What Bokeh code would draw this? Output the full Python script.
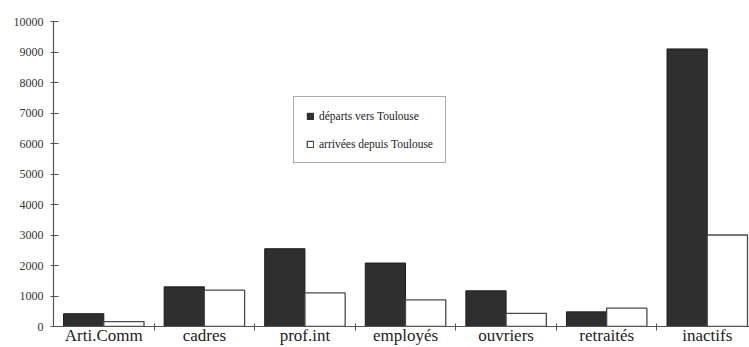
from bokeh.plotting import figure
from bokeh.models import Range1d, FixedTicker, Legend, LegendItem, ColumnDataSource
from bokeh.embed import file_html
from bokeh.resources import INLINE
import numpy as np

categories = ["Arti.Comm", "cadres", "prof.int", "employés", "ouvriers", "retraités", "inactifs"]
departs = [420, 1300, 2550, 2080, 1170, 480, 9100]
arrivees = [160, 1190, 1100, 870, 430, 600, 3000]
y_ticks = [0, 1000, 2000, 3000, 4000, 5000, 6000, 7000, 8000, 9000, 10000]
series_labels = ["départs vers Toulouse", "arrivées depuis Toulouse"]

idx = np.arange(len(categories))
src = ColumnDataSource(dict(
    x_dep=idx + 0.3, x_arr=idx + 0.7,
    dep=departs, arr=arrivees))

FONT = "'Liberation Serif', 'DejaVu Serif', serif"

p = figure(width=749, height=347, output_backend="svg", toolbar_location=None,
           x_range=Range1d(0, 6.92), y_range=Range1d(0, 10000),
           min_border_left=53, min_border_right=0, min_border_top=21, min_border_bottom=21,
           background_fill_color="white", border_fill_color="white")
p.outline_line_color = None
p.xgrid.grid_line_color = None
p.ygrid.grid_line_color = None

r1 = p.vbar(x="x_dep", top="dep", width=0.4, bottom=0, source=src,
            fill_color="#2f2f2f", line_color="#1e1e1e", line_width=1)
r2 = p.vbar(x="x_arr", top="arr", width=0.4, bottom=0, source=src,
            fill_color="white", line_color="#4a4a4a", line_width=1.3)

# x axis
xa = p.xaxis[0]
xa.ticker = FixedTicker(ticks=list(idx + 0.5), minor_ticks=list(idx[1:] + 0.0))
xa.major_label_overrides = {float(i + 0.5): c for i, c in zip(idx, categories)}
xa.major_tick_in = 0
xa.major_tick_out = 0
xa.minor_tick_in = 3
xa.minor_tick_out = 4
xa.minor_tick_line_color = "#555555"
xa.axis_line_color = "#555555"
xa.axis_line_width = 1.2
xa.major_label_text_font = FONT
xa.major_label_text_font_size = "17px"
xa.major_label_text_color = "#222222"
xa.major_label_standoff = -5

# y axis
ya = p.yaxis[0]
ya.ticker = FixedTicker(ticks=y_ticks)
ya.minor_tick_line_color = None
ya.major_tick_in = 5
ya.major_tick_out = 3
ya.major_tick_line_color = "#555555"
ya.axis_line_color = "#555555"
ya.axis_line_width = 1.2
ya.major_label_text_font = FONT
ya.major_label_text_font_size = "12px"
ya.major_label_text_color = "#333333"
ya.major_label_standoff = 7

legend = Legend(items=[LegendItem(label=series_labels[0], renderers=[r1]),
                       LegendItem(label=series_labels[1], renderers=[r2])],
                location=(240, 163))
legend.label_text_font = FONT
legend.label_text_font_size = "11.5px"
legend.label_text_color = "#222222"
legend.glyph_width = 8
legend.glyph_height = 8
legend.label_height = 13
legend.label_standoff = 5
legend.spacing = 15
legend.padding = 12
legend.margin = 0
legend.border_line_color = "#555555"
legend.border_line_width = 1.2
legend.background_fill_color = "white"
legend.background_fill_alpha = 1
p.add_layout(legend, "center")

open("out.html", "w").write(file_html(p, INLINE))
